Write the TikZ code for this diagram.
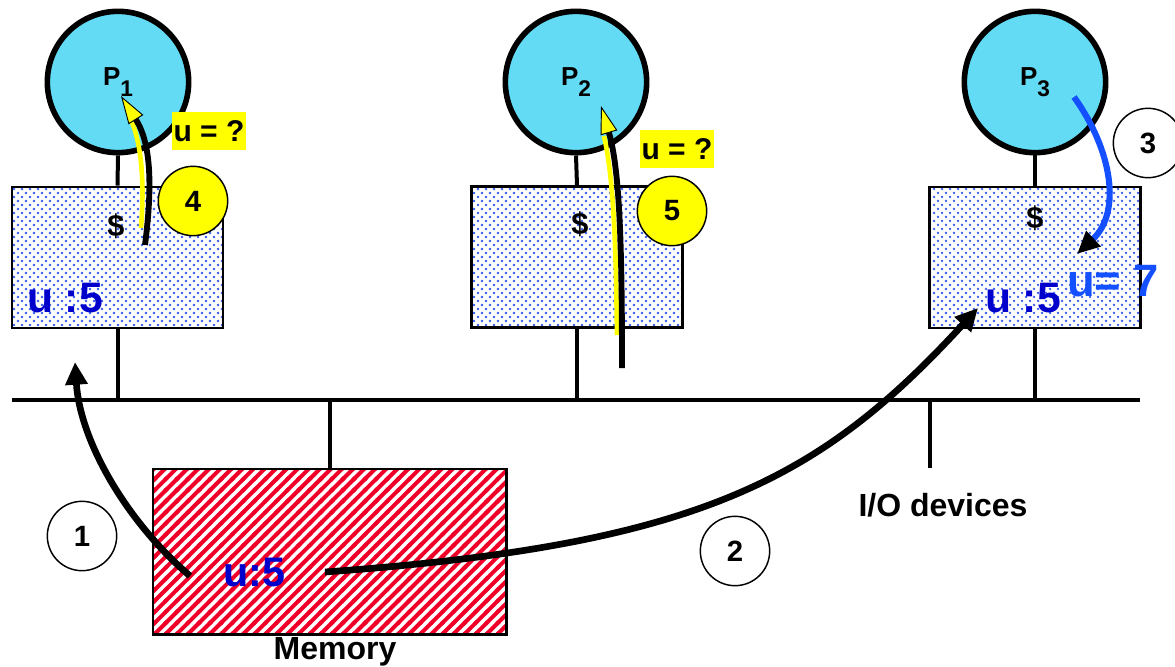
\documentclass[tikz,border=0pt]{standalone}
\usepackage{fontspec}
\setmainfont{Liberation Sans}
\usetikzlibrary{arrows.meta,patterns}
\definecolor{pcyan}{RGB}{99,219,245}
\definecolor{ublue}{RGB}{0,0,204}
\definecolor{bblue}{RGB}{20,80,255}
\definecolor{dotblue}{RGB}{50,90,235}
\definecolor{stripered}{RGB}{240,0,40}
\definecolor{hyellow}{RGB}{255,255,0}
\pgfdeclarepatternformonly{bluedots}{\pgfpoint{-1pt}{-1pt}}{\pgfpoint{7pt}{7pt}}{\pgfpoint{6pt}{6pt}}{%
  \pgfpathcircle{\pgfpoint{1.5pt}{1.5pt}}{0.95pt}%
  \pgfpathcircle{\pgfpoint{4.5pt}{4.5pt}}{0.95pt}%
  \pgfusepath{fill}}
\pgfdeclarepatternformonly{redstripes}{\pgfpoint{-1pt}{-1pt}}{\pgfpoint{9pt}{9pt}}{\pgfpoint{8.3pt}{8.3pt}}{%
  \pgfsetlinewidth{3pt}%
  \pgfpathmoveto{\pgfpoint{-1pt}{-1pt}}\pgfpathlineto{\pgfpoint{9.3pt}{9.3pt}}%
  \pgfpathmoveto{\pgfpoint{-1pt}{7.3pt}}\pgfpathlineto{\pgfpoint{1pt}{9.3pt}}%
  \pgfpathmoveto{\pgfpoint{7.3pt}{-1pt}}\pgfpathlineto{\pgfpoint{9.3pt}{1pt}}%
  \pgfusepath{stroke}}
\newcommand{\psub}[1]{\raisebox{-0.42em}{\fontsize{17}{17}\selectfont #1}}
\begin{document}
\begin{tikzpicture}[x=0.75pt,y=-0.75pt,
  proc/.style={circle, draw, line width=4.2pt, fill=pcyan, minimum size=106pt, inner sep=0pt, font=\fontsize{19.5}{20}\selectfont\bfseries},
  cache/.style={draw, line width=1.9pt, pattern=bluedots, pattern color=dotblue, minimum width=158pt, minimum height=106pt, inner sep=0pt},
  stub/.style={line width=3pt},
  busline/.style={line width=3.2pt},
  memstyle/.style={draw, line width=2pt, pattern=redstripes, pattern color=stripered, minimum width=265pt, minimum height=124pt, inner sep=0pt},
  numc/.style={circle, draw, line width=1.1pt, fill=white, minimum size=52pt, inner sep=0pt, font=\fontsize{22}{24}\selectfont\bfseries},
  ynum/.style={numc, fill=hyellow},
  qlbl/.style={fill=hyellow, minimum width=55.5pt, minimum height=29pt, inner sep=0pt, font=\fontsize{22.5}{24}\selectfont\bfseries},
  dollar/.style={font=\fontsize{23}{24}\selectfont\bfseries},
  bigval/.style={font=\fontsize{32}{34}\selectfont\bfseries, text=ublue, inner sep=0pt},
  lbl/.style={font=\fontsize{24}{26}\selectfont\bfseries, inner sep=0pt},
  arr/.style={line width=5pt, -{Triangle[length=17pt,width=16pt]}},
  yarr/.style={line width=4.4pt, -{Triangle[length=21pt,width=13pt,fill=hyellow,line width=0.7pt]}},
  ysliver/.style={hyellow, line width=3.5pt}
]
\useasboundingbox (0,0) rectangle (1175,667);
% bus
\coordinate (busL) at (12,400);
\coordinate (busR) at (1140,400);
\draw[busline] (busL) -- (busR);
% processors and caches
\node[proc] (p1) at (118,82) {P\psub{1}};
\node[proc] (p2) at (576,82) {P\psub{2}};
\node[proc] (p3) at (1035,82) {P\psub{3}};
\node[cache] (c1) at (117.5,257.5) {};
\node[cache] (c2) at (577,257) {};
\node[cache] (c3) at (1035,257.5) {};
\draw[stub] (p1.south) -- (c1.north);
\draw[stub] (p2.south) -- (c2.north);
\draw[stub] (p3.south) -- (c3.north);
\draw[stub] (c1.south) -- (c1.south |- busL);
\draw[stub] (c2.south) -- (c2.south |- busL);
\draw[stub] (c3.south) -- (c3.south |- busL);
% memory and io
\node[memstyle] (mem) at (329.5,551.5) {};
\draw[stub] (mem.north) -- (mem.north |- busL);
\coordinate (io) at (930,468);
\draw[stub] (io) -- (io |- busL);
\node[lbl] (memlbl) at (335,652) {Memory};
\node[lbl] (iolbl) at (943,505) {I/O devices};
% texts
\node[dollar] (s1) at (116,226) {\$};
\node[dollar] (s2) at (580,224) {\$};
\node[dollar] (s3) at (1035,218) {\$};
\node[bigval] (v1) at (65,298) {u :5};
\node[bigval] (v3) at (1023,298) {u :5};
\node[bigval, font=\fontsize{31}{33}\selectfont\bfseries] (vm) at (254,572) {u:5};
\node[bigval, text=bblue, font=\fontsize{34}{36}\selectfont\bfseries] (v7) at (1113,281) {u= 7};
% step circles
\node[numc] (n1) at (82,536) {1};
\node[numc] (n2) at (735,551) {2};
\node[numc] (n3) at (1148,143) {3};
\node[ynum] (n4) at (193,201) {4};
\node[ynum] (n5) at (672,211) {5};
\node[qlbl] (q1) at (209,131) {u = ?};
\node[qlbl] (q2) at (677,149) {u = ?};
% arrows
\coordinate (a1s) at (190,576);
\coordinate (a1e) at (75,362);
\draw[arr] (a1s) .. controls (125,520) and (80,440) .. (a1e);
\coordinate (a2s) at (325,572);
\coordinate (a2e) at (978,308);
\draw[arr] (a2s) .. controls (700,545) and (820,480) .. (a2e);
\coordinate (a3s) at (1074,97);
\coordinate (a3e) at (1077,254);
\draw[bblue, line width=4.6pt, -{Triangle[length=17pt,width=15pt,color=black]}] (a3s) .. controls (1112,150) and (1122,212) .. (a3e);
\coordinate (a4s) at (145,245);
\coordinate (a4e) at (121,96);
\coordinate (y4s) at (141,228);
\draw[ysliver] (y4s) .. controls (144,190) and (143,150) .. (132,122);
\draw[yarr] (a4s) .. controls (152,190) and (152,145) .. (a4e);
\coordinate (a5s) at (622,368);
\coordinate (a5e) at (601,106);
\coordinate (y5s) at (617,335);
\draw[ysliver] (y5s) .. controls (616,250) and (614,180) .. (604,136);
\draw[yarr] (a5s) .. controls (622,250) and (620,170) .. (a5e);
\end{tikzpicture}
\end{document}
